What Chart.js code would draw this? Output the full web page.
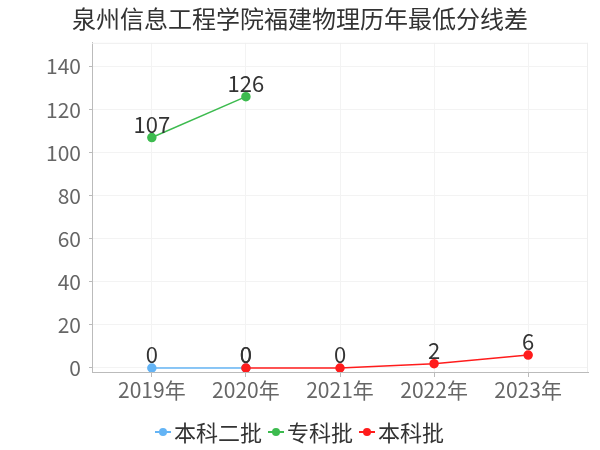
<!DOCTYPE html>
<html><head><meta charset="utf-8">
<script src="https://cdn.jsdelivr.net/npm/chart.js@4/dist/chart.umd.min.js"></script>
<style>html,body{margin:0;padding:0;background:#fff}</style>
</head><body><canvas id="c" width="600" height="450"></canvas>
<script>
const chartTitle = '泉州信息工程学院福建物理历年最低分线差';
const years = ['2019年', '2020年', '2021年', '2022年', '2023年'];
const seriesNames = ['本科二批', '专科批', '本科批'];
const benke2 = [0, 0, null, null, null];
const zhuanke = [107, 126, null, null, null];
const benke = [null, 0, 0, 2, 6];
const yTicks = [0, 20, 40, 60, 80, 100, 120, 140];
const colors = ['#64b4f5', '#3dbb4f', '#ff1c1c'];

const FONT = '"Noto Sans CJK SC", "Noto Sans", sans-serif';
const toPts = arr => arr.map((v, i) => ({ x: i, y: v }));
const seriesValues = [benke2, zhuanke, benke];

const datasets = seriesValues.map((vals, i) => ({
  label: seriesNames[i],
  data: toPts(vals),
  borderColor: colors[i],
  backgroundColor: colors[i],
  pointBackgroundColor: colors[i],
  pointBorderColor: colors[i],
  pointRadius: 4,
  pointHoverRadius: 4,
  borderWidth: 1.5,
  tension: 0,
  spanGaps: false,
  order: 3 - i
}));

const framePlugin = {
  id: 'frame',
  beforeDatasetsDraw(chart) {
    const { ctx, chartArea: a } = chart;
    ctx.save();
    ctx.strokeStyle = '#eeeeee';
    ctx.lineWidth = 1;
    ctx.beginPath();
    ctx.moveTo(a.left, a.top + 0.5); ctx.lineTo(a.right, a.top + 0.5);
    ctx.moveTo(a.right - 0.5, a.top); ctx.lineTo(a.right - 0.5, a.bottom);
    ctx.stroke();
    ctx.restore();
  }
};

const valueLabels = {
  id: 'valueLabels',
  afterDatasetsDraw(chart) {
    const ctx = chart.ctx;
    ctx.save();
    ctx.font = '22px ' + FONT;
    ctx.fillStyle = '#333333';
    ctx.textAlign = 'center';
    ctx.textBaseline = 'alphabetic';
    chart.data.datasets.forEach((ds, di) => {
      const meta = chart.getDatasetMeta(di);
      meta.data.forEach((el, i) => {
        const v = ds.data[i].y;
        if (v === null || v === undefined) return;
        ctx.fillText(String(v), el.x, el.y - 5);
      });
    });
    ctx.restore();
  }
};

const customLegend = {
  id: 'customLegend',
  afterDraw(chart) {
    const ctx = chart.ctx;
    ctx.save();
    ctx.font = '22px ' + FONT;
    const mw = 16, g1 = 3, g2 = 6;
    const items = chart.data.datasets.map(ds => ({ label: ds.label, color: ds.borderColor, w: ctx.measureText(ds.label).width }));
    let total = 0;
    items.forEach((it, i) => { total += mw + g1 + it.w + (i ? g2 : 0); });
    let x = Math.round((chart.width - total) / 2);
    const y = 432;
    items.forEach(it => {
      ctx.strokeStyle = it.color; ctx.lineWidth = 2;
      ctx.beginPath(); ctx.moveTo(x, y); ctx.lineTo(x + mw, y); ctx.stroke();
      ctx.fillStyle = it.color;
      ctx.beginPath(); ctx.arc(x + mw / 2, y, 4, 0, Math.PI * 2); ctx.fill();
      x += mw + g1;
      ctx.fillStyle = '#333333';
      ctx.textBaseline = 'middle';
      ctx.textAlign = 'left';
      ctx.fillText(it.label, x, y + 1);
      x += it.w + g2;
    });
    ctx.restore();
  }
};

new Chart(document.getElementById('c'), {
  type: 'line',
  data: { datasets },
  options: {
    responsive: false,
    devicePixelRatio: 1,
    animation: false,
    events: [],
    layout: { padding: { left: 0, right: 0, top: 0, bottom: 40 } },
    plugins: {
      legend: { display: false },
      tooltip: { enabled: false },
      title: {
        display: true,
        text: chartTitle,
        color: '#333333',
        font: { family: FONT, size: 24, weight: 'normal' },
        padding: { top: 4, bottom: 10 }
      }
    },
    scales: {
      x: {
        type: 'linear',
        min: -0.636,
        max: 4.636,
        afterBuildTicks: s => { s.ticks = years.map((_, i) => ({ value: i })); },
        afterFit: s => { s.height = 38; },
        ticks: {
          callback: v => years[v],
          color: '#666666',
          font: { family: FONT, size: 21 },
          padding: 0,
          maxRotation: 0,
          autoSkip: false
        },
        grid: { color: '#f3f3f3', tickColor: '#bbbbbb', tickLength: 5 },
        border: { color: '#bbbbbb' }
      },
      y: {
        min: -1.86,
        max: 151,
        afterBuildTicks: s => { s.ticks = yTicks.map(v => ({ value: v })); },
        afterFit: s => { s.width = 92; },
        ticks: {
          color: '#666666',
          font: { family: FONT, size: 21 },
          padding: 8
        },
        grid: { color: '#f3f3f3', tickColor: '#bbbbbb', tickLength: 3 },
        border: { color: '#bbbbbb' }
      },
      yRight: {
        position: 'right',
        min: 0,
        max: 151,
        afterFit: s => { s.width = 12; },
        ticks: { display: false },
        grid: { display: false, drawTicks: false },
        border: { display: false }
      }
    }
  },
  plugins: [framePlugin, valueLabels, customLegend]
});
</script>
</body></html>
